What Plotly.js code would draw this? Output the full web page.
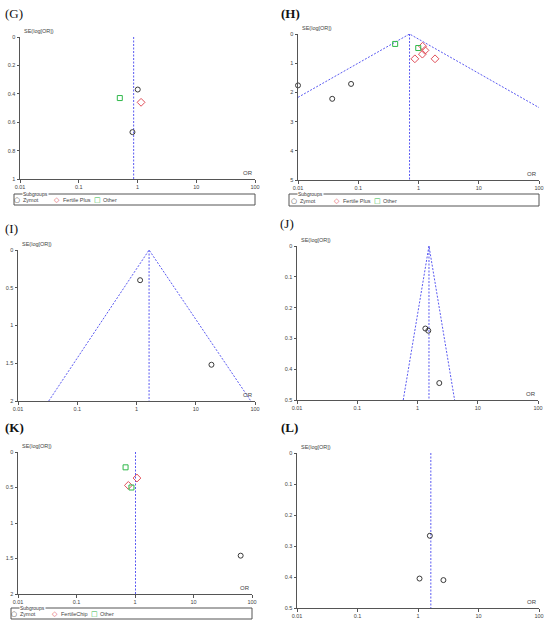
<!DOCTYPE html>
<html><head><meta charset="utf-8">
<script src="https://cdn.plot.ly/plotly-3.0.1.min.js"></script>
<style>html,body{margin:0;padding:0;background:#fff}#c{width:550px;height:625px}</style>
</head><body><div id="c"></div>
<script>
// ---- data (OR, SE of log OR) ----
// Panel G
const G_zymot_or = [1.01, 0.82];   const G_zymot_se = [0.37, 0.67];
const G_fp_or    = [1.15];         const G_fp_se    = [0.46];
const G_other_or = [0.50];         const G_other_se = [0.43];
const G_pooled   = 0.86;
// Panel H
const H_zymot_or = [0.01, 0.076, 0.037]; const H_zymot_se = [1.76, 1.71, 2.22];
const H_fp_or    = [1.17, 1.28, 1.16, 0.87, 1.88]; const H_fp_se = [0.42, 0.56, 0.69, 0.85, 0.85];
const H_other_or = [0.41, 0.99];   const H_other_se = [0.34, 0.48];
const H_pooled   = 0.71;
const H_funnel_or = [0.01, 0.71, 100]; const H_funnel_se = [2.17, 0, 2.52];
const H_missing_or = [0.0062];     const H_missing_se = [2.08];
// Panel I
const I_zymot_or = [1.15, 18.4];   const I_zymot_se = [0.40, 1.52];
const I_pooled   = 1.63;
const I_funnel_or = [0.033, 1.63, 85]; const I_funnel_se = [2, 0, 2];
// Panel J
const J_zymot_or = [1.35, 1.51, 2.3]; const J_zymot_se = [0.268, 0.275, 0.445];
const J_pooled   = 1.55;
const J_funnel_or = [0.58, 1.55, 4.13]; const J_funnel_se = [0.5, 0, 0.5];
// Panel K
const K_zymot_or = [64];           const K_zymot_se = [1.46];
const K_fc_or    = [1.08, 0.77];   const K_fc_se    = [0.367, 0.47];
const K_other_or = [0.69, 0.87];   const K_other_se = [0.216, 0.50];
const K_pooled   = 1.02;
// Panel L
const L_zymot_or = [1.57, 1.06, 2.63]; const L_zymot_se = [0.267, 0.405, 0.41];
const L_pooled   = 1.63;
// tick labels
const xTickVals = [0.01, 0.1, 1, 10, 100];
const xTickText = ["0.01", "0.1", "1", "10", "100"];
const G_yticks = [0, 0.2, 0.4, 0.6, 0.8, 1];
const H_yticks = [0, 1, 2, 3, 4, 5];
const I_yticks = [0, 0.5, 1, 1.5, 2];
const J_yticks = [0, 0.1, 0.2, 0.3, 0.4, 0.5];
const K_yticks = [0, 0.5, 1, 1.5, 2];
const L_yticks = [0, 0.1, 0.2, 0.3, 0.4, 0.5];
const panelLabels = ["(G)", "<b>(H)</b>", "(I)", "(J)", "<b>(K)</b>", "<b>(L)</b>"];
const subgroupNamesGH = ["Zymot", "Fertile Plus", "Other"];
const subgroupNamesK  = ["Zymot", "FertileChip", "Other"];

// ---- styling / layout helpers ----
const W = 550, Hh = 625;
const px = p => p / W, py = p => 1 - p / Hh;
const C_Z = '#3a3a3a', C_R = '#e0505a', C_G = '#2fb84a', C_L = '#5a5af2';
const panels = [
  {x0:20, x1:255, y0:37, y1:179, ymax:1,  yt:G_yticks, lab:[3,13]},
  {x0:298,x1:539, y0:34, y1:180, ymax:5,  yt:H_yticks, lab:[279,13]},
  {x0:18, x1:255, y0:250,y1:401, ymax:2,  yt:I_yticks, lab:[3,228]},
  {x0:297,x1:538, y0:246,y1:400, ymax:0.5,yt:J_yticks, lab:[278,223]},
  {x0:18, x1:252, y0:452,y1:594, ymax:2,  yt:K_yticks, lab:[3,427]},
  {x0:297,x1:539, y0:453,y1:608, ymax:0.5,yt:L_yticks, lab:[279,427]}
];

const lineTraces = [], markerTraces = [];
function pts(i, xs, ys, sym, col, sz) {
  const s = i === 0 ? '' : String(i + 1);
  markerTraces.push({x: xs, y: ys, xaxis: 'x' + s, yaxis: 'y' + s, type: 'scatter', mode: 'markers',
    showlegend: false, cliponaxis: false,
    marker: {symbol: sym, size: sz, color: col, line: {width: 1}}});
}
function ln(i, xs, ys) {
  const s = i === 0 ? '' : String(i + 1);
  lineTraces.push({x: xs, y: ys, xaxis: 'x' + s, yaxis: 'y' + s, type: 'scatter', mode: 'lines',
    showlegend: false, line: {color: C_L, width: 1, dash: '2px,1.5px'}});
}
// G
ln(0, [G_pooled, G_pooled], [0, panels[0].ymax]);
pts(0, G_zymot_or, G_zymot_se, 'circle-open', C_Z, 5);
pts(0, G_fp_or, G_fp_se, 'diamond-open', C_R, 6);
pts(0, G_other_or, G_other_se, 'square-open', C_G, 5);
// H
ln(1, [H_pooled, H_pooled], [0, panels[1].ymax]);
ln(1, H_funnel_or, H_funnel_se);
pts(1, H_zymot_or, H_zymot_se, 'circle-open', C_Z, 5);
pts(1, H_fp_or, H_fp_se, 'diamond-open', C_R, 6);
pts(1, H_other_or, H_other_se, 'square-open', C_G, 5);
markerTraces.push({x: H_missing_or, y: H_missing_se, xaxis: 'x2', yaxis: 'y2', type: 'scatter',
  mode: 'markers', showlegend: false, cliponaxis: false,
  marker: {symbol: 'diamond', size: 5, color: C_R}});
// I
ln(2, [I_pooled, I_pooled], [0, panels[2].ymax]);
ln(2, I_funnel_or, I_funnel_se);
pts(2, I_zymot_or, I_zymot_se, 'circle-open', C_Z, 5);
// J
ln(3, [J_pooled, J_pooled], [0, panels[3].ymax]);
ln(3, J_funnel_or, J_funnel_se);
pts(3, J_zymot_or, J_zymot_se, 'circle-open', C_Z, 5);
// K
ln(4, [K_pooled, K_pooled], [0, panels[4].ymax]);
pts(4, K_zymot_or, K_zymot_se, 'circle-open', C_Z, 5);
pts(4, K_fc_or, K_fc_se, 'diamond-open', C_R, 6);
pts(4, K_other_or, K_other_se, 'square-open', C_G, 5);
// L
ln(5, [L_pooled, L_pooled], [0, panels[5].ymax]);
pts(5, L_zymot_or, L_zymot_se, 'circle-open', C_Z, 5);

const layout = {
  width: W, height: Hh, margin: {l: 0, r: 0, t: 0, b: 0},
  paper_bgcolor: '#fff', plot_bgcolor: '#fff', showlegend: false,
  font: {family: 'Liberation Sans, Arial, sans-serif', size: 5, color: '#444'},
  annotations: [], shapes: []
};
const tickFont = {family: 'Liberation Sans, Arial, sans-serif', size: 5.5, color: '#444'};
panels.forEach((p, i) => {
  const s = i === 0 ? '' : String(i + 1);
  layout['xaxis' + s] = {type: 'log', range: [-2, 2], domain: [px(p.x0), px(p.x1)], anchor: 'y' + s,
    tickvals: xTickVals, ticktext: xTickText, ticks: 'outside', ticklen: 2.5, tickcolor: '#555',
    showline: true, linecolor: '#555', linewidth: 1, showgrid: false, zeroline: false,
    tickfont: tickFont, fixedrange: true};
  layout['yaxis' + s] = {range: [p.ymax, 0], domain: [py(p.y1), py(p.y0)], anchor: 'x' + s,
    tickvals: p.yt, ticks: 'outside', ticklen: 2.5, tickcolor: '#555',
    showline: true, linecolor: '#555', linewidth: 1, showgrid: false, zeroline: false,
    tickfont: tickFont, fixedrange: true};
  layout.annotations.push({xref: 'paper', yref: 'paper', x: px(p.lab[0]), y: py(p.lab[1]),
    xanchor: 'left', yanchor: 'middle', showarrow: false, text: panelLabels[i],
    font: {family: 'Liberation Serif, Times New Roman, serif', size: 13, color: '#111'}});
  layout.annotations.push({xref: 'paper', yref: 'paper', x: px(p.x0 + 2), y: py(p.y0 - 1),
    xanchor: 'left', yanchor: 'bottom', showarrow: false, text: 'SE(log[OR])',
    font: {family: 'Liberation Sans, Arial, sans-serif', size: 5.5, color: '#444'}});
  layout.annotations.push({xref: 'paper', yref: 'paper', x: px(p.x1), y: py(p.y1 - 1),
    xanchor: 'right', yanchor: 'bottom', showarrow: false, text: 'OR',
    font: {family: 'Liberation Sans, Arial, sans-serif', size: 6, color: '#444'}});
});

// legends (boxes with Subgroups caption)
const legends = [
  {x0:14, x1:255, y0:194, y1:205, names: subgroupNamesGH, mx:[17,57,97]},
  {x0:289,x1:539, y0:194, y1:206, names: subgroupNamesGH, mx:[294,337,377]},
  {x0:11, x1:252, y0:608, y1:619, names: subgroupNamesK,  mx:[14,55,94]}
];
const legSym = [['○', C_Z], ['◇', C_R], ['□', C_G]];
legends.forEach(L => {
  layout.shapes.push({type: 'rect', xref: 'paper', yref: 'paper', x0: px(L.x0), x1: px(L.x1),
    y0: py(L.y1), y1: py(L.y0), line: {color: '#555', width: 1}});
  layout.annotations.push({xref: 'paper', yref: 'paper', x: px(L.x0 + 8), y: py(L.y0),
    xanchor: 'left', yanchor: 'middle', showarrow: false, text: 'Subgroups', bgcolor: '#fff',
    borderpad: 0, font: {family: 'Liberation Sans, Arial, sans-serif', size: 5, color: '#333'}});
  const yc = (L.y0 + L.y1) / 2 + 0.8;
  L.names.forEach((n, k) => {
    layout.annotations.push({xref: 'paper', yref: 'paper', x: px(L.mx[k]), y: py(yc),
      xanchor: 'center', yanchor: 'middle', showarrow: false, text: legSym[k][0],
      font: {family: 'DejaVu Sans, sans-serif', size: 7, color: legSym[k][1]}});
    layout.annotations.push({xref: 'paper', yref: 'paper', x: px(L.mx[k] + 4), y: py(yc),
      xanchor: 'left', yanchor: 'middle', showarrow: false, text: n,
      font: {family: 'Liberation Sans, Arial, sans-serif', size: 5.5, color: '#444'}});
  });
});

Plotly.newPlot('c', lineTraces.concat(markerTraces), layout, {displayModeBar: false, staticPlot: true});
</script></body></html>
